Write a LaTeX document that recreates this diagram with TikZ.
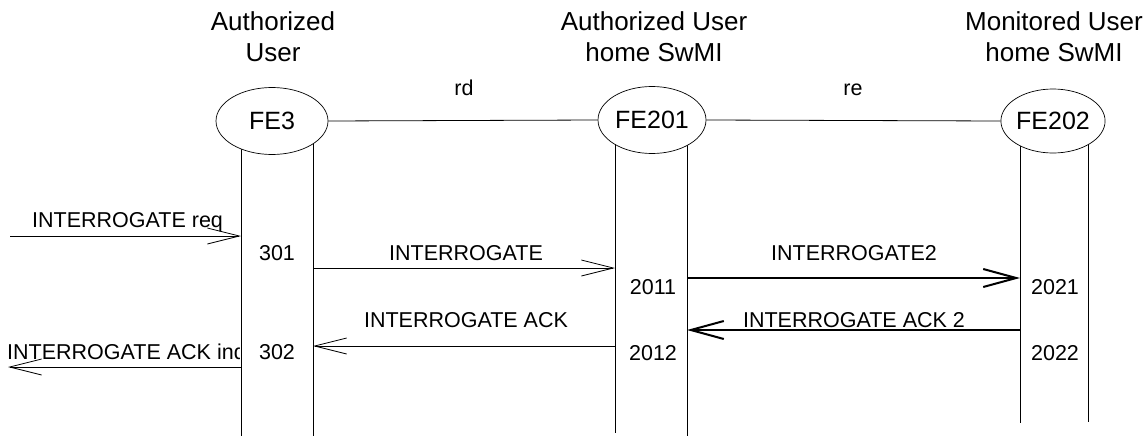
\documentclass[tikz,border=0pt]{standalone}
\usepackage{fontspec}
\setmainfont{Liberation Sans}
\usetikzlibrary{shapes.geometric,arrows.meta}
\begin{document}
\begin{tikzpicture}[x=1pt,y=-1pt,
  fe/.style={ellipse,draw,fill=white,line width=0.7pt,inner sep=0pt,font=\fontsize{25}{30}\selectfont},
  head/.style={align=center,inner sep=0pt,anchor=base,font=\fontsize{26}{31}\selectfont},
  lbl/.style={inner sep=0pt,anchor=base,font=\fontsize{21.5}{25}\selectfont},
  life/.style={line width=0.8pt},
  link/.style={line width=0.8pt},
  msg/.style={line width=0.8pt,-{Straight Barb[length=32pt,width=16pt]}},
  bmsg/.style={line width=2pt,-{Straight Barb[length=33pt,width=18pt,line width=2pt]}}]
\useasboundingbox (0,0) rectangle (1148,436);
% lifeline coordinates
\coordinate (a1t) at (241,140); \coordinate (a1b) at (241,436);
\coordinate (a2t) at (313,140); \coordinate (a2b) at (313,436);
\coordinate (b1t) at (615,140); \coordinate (b1b) at (615,433);
\coordinate (b2t) at (687,140); \coordinate (b2b) at (687,436);
\coordinate (c1t) at (1020,140); \coordinate (c1b) at (1020,423);
\coordinate (c2t) at (1088,140); \coordinate (c2b) at (1088,422);
\coordinate (ext1) at (10,236);
\coordinate (ext2) at (8,367);
\draw[life] (a1t) -- (a1b); \draw[life] (a2t) -- (a2b);
\draw[life] (b1t) -- (b1b); \draw[life] (b2t) -- (b2b);
\draw[life] (c1t) -- (c1b); \draw[life] (c2t) -- (c2b);
% entities
\node[fe,minimum width=112pt,minimum height=67pt] (fe3) at (272,121) {FE3};
\node[fe,minimum width=108pt,minimum height=67pt] (fe201) at (652,120) {FE201};
\node[fe,minimum width=102pt,minimum height=64pt] (fe202) at (1053,121) {FE202};
\draw[link] (fe3.east) -- (fe201.west);
\draw[link] (fe201.east) -- (fe202.west);
% headers
\node[head] (h1) at (273,62) {Authorized\\User};
\node[head] (h2) at (654,62) {Authorized User\\home SwMI};
\node[head] (h3) at (1054,62) {Monitored User\\home SwMI};
\node[lbl] (rd) at (464,95) {rd};
\node[lbl] (re) at (853,95) {re};
% messages
\draw[msg] (ext1) -- (a1t|-ext1);
\node[lbl,anchor=base west] (m1) at (32,227) {INTERROGATE req};
\draw[msg] (a2t|-0,268) -- (b1t|-0,268);
\node[lbl] (m2) at (466,260) {INTERROGATE};
\draw[bmsg] (b2t|-0,278) -- (c1t|-0,278);
\node[lbl] (m3) at (854,260) {INTERROGATE2};
\draw[bmsg] (c1t|-0,330) -- (b2t|-0,330);
\node[lbl] (m4) at (854,327) {INTERROGATE ACK 2};
\draw[msg] (b1t|-0,346) -- (a2t|-0,346);
\node[lbl] (m5) at (466,327) {INTERROGATE ACK};
\draw[msg] (a1t|-ext2) -- (ext2);
\begin{scope}
\clip (0,330) rectangle (239,366);
\node[lbl,anchor=base west] (m6) at (7,359) {INTERROGATE ACK ind};
\end{scope}
% state numbers
\node[lbl] (s301) at (277,260) {301};
\node[lbl] (s302) at (277,359) {302};
\node[lbl] (s2011) at (653,294) {2011};
\node[lbl] (s2012) at (653,360) {2012};
\node[lbl] (s2021) at (1055,294) {2021};
\node[lbl] (s2022) at (1055,360) {2022};
\end{tikzpicture}
\end{document}
